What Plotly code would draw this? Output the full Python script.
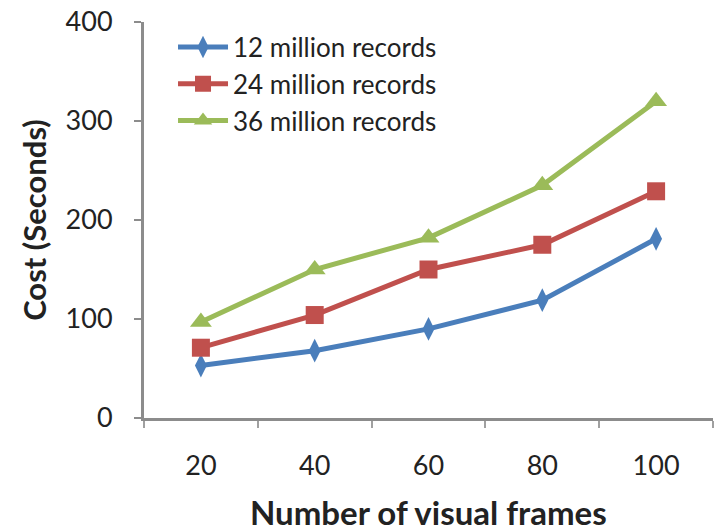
import plotly.graph_objects as go

frames = ["20", "40", "60", "80", "100"]
rec_12m = [53, 68, 90, 119, 181]
rec_24m = [71, 104, 150, 175, 229]
rec_36m = [97, 150, 182, 235, 320]

series = [
    ("12 million records", rec_12m, "#4A7EBB", "diamond-tall", 17),
    ("24 million records", rec_24m, "#C0504D", "square", 18),
    ("36 million records", rec_36m, "#9BBB59", "triangle-up", 19),
]

fig = go.Figure()
for name, vals, color, symbol, size in series:
    fig.add_trace(go.Scatter(
        x=frames, y=vals, name=name, mode="lines+markers",
        line=dict(color=color, width=5),
        marker=dict(symbol=symbol, size=size, color=color),
    ))

font_family = "Lato, 'Liberation Sans', sans-serif"
fig.update_layout(
    width=717, height=531,
    margin=dict(l=144, r=4, t=22, b=113),
    paper_bgcolor="white", plot_bgcolor="white",
    font=dict(family=font_family, size=28, color="#222"),
    showlegend=True,
    legend=dict(
        x=0.051, y=0.996, xanchor="left", yanchor="top",
        bgcolor="rgba(0,0,0,0)", font=dict(size=26, color="#222"),
        tracegroupgap=0, itemwidth=50,
    ),
    xaxis=dict(
        type="category", tickson="boundaries", range=[-0.5, 4.5],
        automargin=False,
        showline=True, linecolor="#8c8c8c", linewidth=3,
        ticks="outside", ticklen=7, tickwidth=2, tickcolor="#a0a0a0",
        showgrid=False, zeroline=False,
        ticklabelstandoff=22,
        tickfont=dict(size=27),
    ),
    yaxis=dict(
        range=[0, 400], tickvals=[0, 100, 200, 300, 400],
        automargin=False,
        showline=True, linecolor="#8c8c8c", linewidth=3,
        ticks="outside", ticklen=7, tickwidth=2, tickcolor="#8c8c8c",
        showgrid=False, zeroline=False,
        ticklabelstandoff=16,
        tickfont=dict(size=27),
        title=dict(text="<b>Cost (Seconds)</b>", font=dict(size=31), standoff=10),
    ),
    # x-axis title placed low in the bottom margin
    annotations=[dict(
        text="<b>Number of visual frames</b>", xref="paper", yref="paper",
        x=0.5, y=-0.237, xanchor="center", yanchor="middle",
        showarrow=False, font=dict(size=33, color="#222"),
    )],
)

fig.write_html("out.html")
